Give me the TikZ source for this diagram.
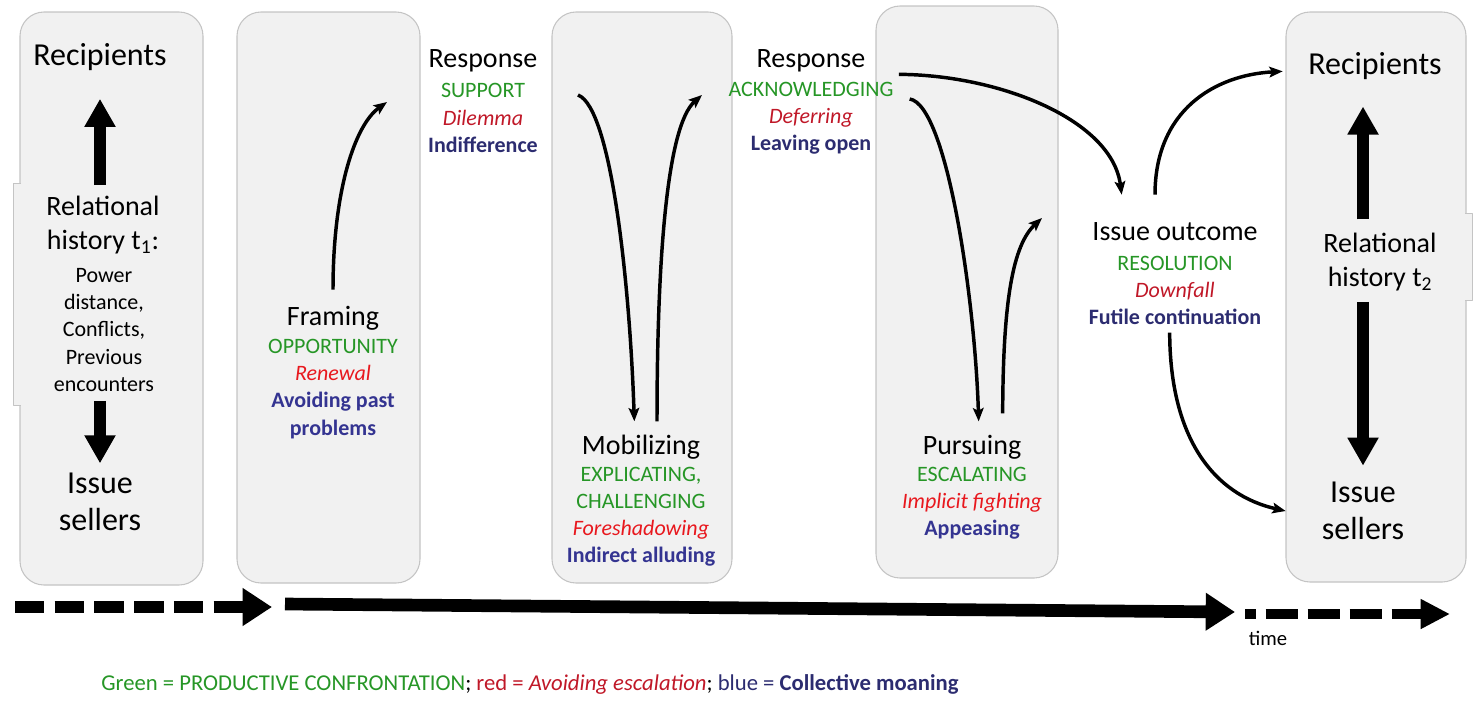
\documentclass[tikz,border=0pt]{standalone}
\usepackage{fontspec}
\setmainfont{Carlito}
\usetikzlibrary{arrows.meta}

\definecolor{boxfill}{HTML}{F1F1F1}
\definecolor{boxline}{HTML}{C4C4C4}
\definecolor{pcgreen}{RGB}{38,150,38}
\definecolor{avred}{RGB}{192,24,40}
\definecolor{avredin}{RGB}{232,24,30}
\definecolor{cmblue}{RGB}{44,44,112}
\definecolor{cmbluein}{RGB}{52,52,145}

% one macro per strategy colour
\newcommand{\prodconf}[1]{\textcolor{pcgreen}{#1}}
\newcommand{\avoidesc}[2][avred]{\textcolor{#1}{\itshape #2}}
\newcommand{\collmoan}[2][cmblue]{\textcolor{#1}{\bfseries #2}}

\begin{document}
\begin{tikzpicture}[x=0.75pt, y=-0.75pt, line join=round,
  stagebox/.style={draw=boxline, line width=0.8pt, fill=boxfill, rounded corners=18pt},
  party/.style={font=\fontsize{24}{28}\selectfont, align=center, inner sep=2pt},
  relhist/.style={font=\fontsize{21}{25.5}\selectfont, align=center, inner sep=2pt},
  phase/.style={font=\fontsize{21}{25}\selectfont, align=center, inner sep=2pt},
  modes/.style={font=\fontsize{16.5}{20.3}\selectfont, align=center, inner sep=2pt},
  link/.style={line width=2.6pt, -{Stealth[length=10pt,width=8pt,inset=2pt]}},
  heavy/.style={line width=9pt, -{Triangle[length=21pt,width=22pt]}},
  timeline/.style={line width=9.5pt, -{Triangle[length=22pt,width=27pt]}}]

  \useasboundingbox (0,0) rectangle (1480,704);

  % grey columns
  \foreach \l/\r/\t/\b in {20/203/12/585, 237/420/12/583, 552/732/12/583,
                           876/1058/6/578, 1286/1466/12/582}
    \draw[stagebox] (\l,\t) rectangle (\r,\b);
  % tabs left over from the text boxes of the outer columns
  \fill[boxfill] (13,183) rectangle (21,405);
  \draw[boxline, line width=0.6pt] (21,183) -- (13,183) -- (13,405) -- (21,405);
  \fill[boxfill] (1465,213) rectangle (1472,300);
  \draw[boxline, line width=0.6pt] (1465,213) -- (1472,213) -- (1472,300) -- (1465,300);

  % relational history at t1
  \node[party] (rec1) at (100,57) {Recipients};
  \node[relhist] (rel1) at (103,225) {Relational\\history t\textsubscript{1}:};
  \node[modes] (hist1) at (104,330) {Power\\distance,\\Conflicts,\\Previous\\encounters};
  \node[party] (iss1) at (100,502) {Issue\\sellers};
  \draw[heavy, shorten <=6pt, shorten >=19pt] (rel1.north -| rec1) -- (rec1.south);
  \draw[heavy, shorten <=5pt, shorten >=5pt] (hist1.south -| iss1) -- (iss1.north);

  % phases
  \node[phase] (fr) at (333,318) {Framing};
  \node[modes] (frsub) at (333,389) {\prodconf{OPPORTUNITY}\\\avoidesc[avredin]{Renewal}\\
    \collmoan[cmbluein]{Avoiding past}\\\collmoan[cmbluein]{problems}};
  \node[phase] (r1) at (483,61) {Response};
  \node[modes] (r1sub) at (483,118) {\prodconf{SUPPORT}\\\avoidesc{Dilemma}\\\collmoan{Indifference}};
  \node[phase] (mob) at (641,447) {Mobilizing};
  \node[modes] (mobsub) at (641,517) {\prodconf{EXPLICATING,}\\\prodconf{CHALLENGING}\\
    \avoidesc[avredin]{Foreshadowing}\\\collmoan[cmbluein]{Indirect alluding}};
  \node[phase] (r2) at (811,61) {Response};
  \node[modes] (r2sub) at (811,118) {\prodconf{ACKNOWLEDGING}\\\avoidesc{Deferring}\\\collmoan{Leaving open}};
  \node[phase] (pur) at (972,447) {Pursuing};
  \node[modes] (pursub) at (972,503) {\prodconf{ESCALATING}\\\avoidesc[avredin]{Implicit fighting}\\
    \collmoan[cmbluein]{Appeasing}};
  \node[phase] (out) at (1175,232) {Issue outcome};
  \node[modes] (outsub) at (1175,290) {\prodconf{RESOLUTION}\\\avoidesc{Downfall}\\\collmoan{Futile continuation}};

  % relational history at t2
  \node[party] (rec5) at (1375,66) {Recipients};
  \node[relhist] (rel5) at (1380,262) {Relational\\history t\textsubscript{2}};
  \node[party] (iss5) at (1363,511) {Issue\\sellers};
  \draw[heavy, shorten <=8pt, shorten >=18pt] (rel5.north -| iss5) -- (rec5.south -| iss5);
  \draw[heavy, shorten <=6pt, shorten >=10pt] (rel5.south -| iss5) -- (iss5.north);

  % moves between the phases
  \coordinate (r1in) at (387,102);
  \coordinate (mobin) at (578,95);
  \coordinate (r2in) at (702,95);
  \coordinate (purup) at (1042,218);
  \draw[link] ([yshift=10pt]fr.north) .. controls (333,190) and (355,125) .. (r1in);
  \draw[link] (mobin) .. controls (612,108) and (630,290) .. ([shift={(-5pt,8pt)}]mob.north);
  \draw[link] ([shift={(12pt,8pt)}]mob.north) .. controls (657,250) and (668,125) .. (r2in);
  \draw[link] ([shift={(23pt,-10pt)}]r2.east) .. controls (1000,75) and (1112,120)
    .. ([shift={(-40pt,19pt)}]out.north);
  \draw[link] ([shift={(10pt,-15pt)}]r2sub.north east) .. controls (947,105) and (975,300)
    .. ([shift={(5pt,8pt)}]pur.north);
  \draw[link] ([shift={(23pt,14pt)}]pur.north) .. controls (1003,300) and (1013,245) .. (purup);
  \draw[link] ([shift={(-15pt,19pt)}]out.north) .. controls (1155,110) and (1215,75)
    .. ([shift={(-17pt,-4pt)}]rec5.west);
  \draw[link] ([shift={(-4pt,-4pt)}]outsub.south) .. controls (1170,440) and (1215,495)
    .. ([xshift=-25pt]iss5.west);

  % time axis
  \draw[timeline, dash pattern=on 22pt off 7.8pt] (15,607) -- (272,607);
  \draw[timeline] (285,604) -- (1235,612);
  \draw[line width=7.5pt, dash pattern=on 24pt off 7.5pt, dash phase=16pt,
    -{Triangle[length=22pt,width=21pt]}] (1245,614) -- (1450,614);
  \node[font=\fontsize{15.5}{18}\selectfont] (timelbl) at (1268,638) {time};

  \node[font=\fontsize{17}{20}\selectfont] (legend) at (530,684)
    {\prodconf{Green = PRODUCTIVE CONFRONTATION}; \textcolor{avred}{red = \textit{Avoiding escalation}};
     \textcolor{cmblue}{blue = \textbf{Collective moaning}}};
\end{tikzpicture}
\end{document}
